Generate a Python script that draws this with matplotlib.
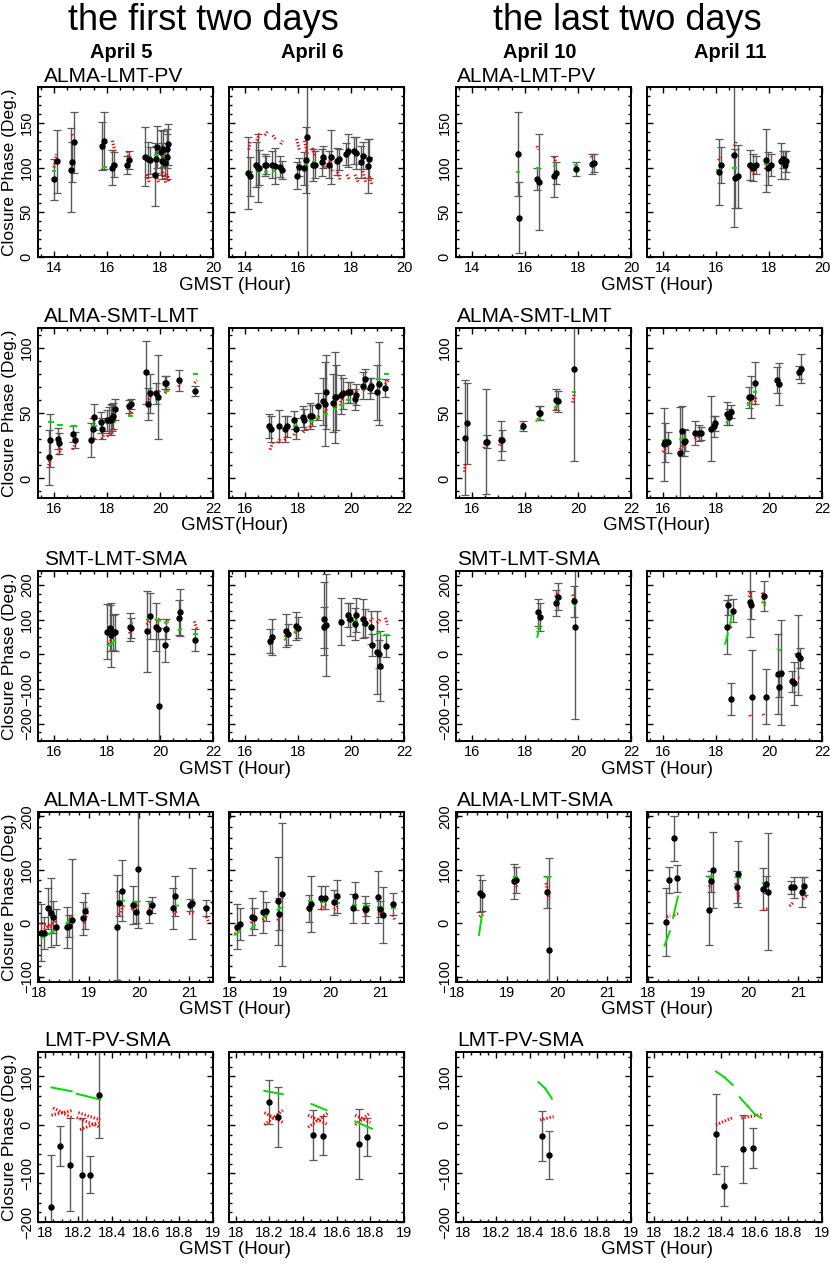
import matplotlib
matplotlib.use("Agg")
import matplotlib.pyplot as plt
from matplotlib.ticker import MultipleLocator, FuncFormatter

plt.rcParams['font.family'] = ['Liberation Sans', 'DejaVu Sans']

# Black points: (GMST hour, closure phase, error) ; green/red: (t0, t1, y0, y1)
# ---- ALMA-LMT-PV ----
pv_apr5 = [(14.01, 87, 23), (14.1, 107, 35), (14.63, 97, 47), (14.68, 106, 22), (14.74, 128, 34),
           (15.8, 124, 27), (15.88, 130, 32), (16.2, 100, 20), (16.26, 103, 14), (16.75, 103, 10),
           (16.82, 108, 10), (17.45, 112, 33), (17.55, 109, 20), (17.62, 108, 15), (17.82, 92, 35),
           (17.87, 123, 23), (17.86, 109, 15), (18.02, 117, 25), (18.08, 107, 20), (18.12, 121, 20),
           (18.2, 105, 15), (18.26, 121, 22), (18.3, 126, 23), (18.28, 112, 25)]
pv_apr5_green = [(13.98, 14.05, 96, 96), (14.65, 14.75, 95, 95), (15.85, 15.95, 101, 101),
                 (16.2, 16.3, 104, 104), (16.78, 16.88, 108, 108), (17.5, 17.65, 112, 112),
                 (17.8, 17.92, 114, 114), (18.05, 18.2, 114, 114), (18.25, 18.35, 113, 113)]
pv_apr5_red = [(14.0, 14.1, 100, 115), (14.68, 14.75, 137, 134), (15.8, 15.9, 120, 130),
               (16.2, 16.3, 130, 118), (16.78, 16.85, 118, 107), (17.5, 17.6, 92, 83),
               (17.85, 17.95, 92, 83), (18.1, 18.22, 95, 82), (18.25, 18.35, 93, 83)]

pv_apr6 = [(14.13, 94, 40), (14.21, 90, 22), (14.41, 103, 25), (14.48, 99, 38), (14.54, 100, 20),
           (14.75, 103, 12), (14.81, 103, 10), (15.04, 103, 15), (15.12, 102, 20), (15.31, 101, 12),
           (15.38, 97, 10), (15.96, 91, 15), (16.03, 101, 10), (16.21, 99, 18), (16.29, 108, 37),
           (16.34, 134, 250), (16.56, 103, 18), (16.63, 103, 15), (16.91, 106, 15), (16.96, 112, 12),
           (17.19, 103, 15), (17.25, 112, 30), (17.48, 107, 15), (17.54, 109, 12), (17.81, 115, 12),
           (17.88, 119, 18), (18.1, 119, 15), (18.19, 116, 18), (18.38, 106, 18), (18.44, 113, 15),
           (18.63, 102, 30), (18.69, 110, 22)]
pv_apr6_green = [(14.15, 14.25, 95, 95), (14.45, 14.55, 95, 95), (14.75, 14.85, 95, 95),
                 (15.05, 15.15, 96, 96), (15.33, 15.42, 97, 97), (15.95, 16.05, 101, 101),
                 (16.25, 16.35, 104, 104), (16.55, 16.65, 106, 106), (16.95, 17.05, 110, 110),
                 (17.25, 17.35, 111, 111), (17.5, 17.6, 112, 112), (17.85, 17.95, 115, 115),
                 (18.15, 18.3, 115, 115), (18.43, 18.55, 113, 113), (18.68, 18.8, 111, 111)]
pv_apr6_red = [(14.15, 14.2, 120, 130), (14.45, 14.55, 130, 138), (14.75, 14.85, 136, 140),
               (15.05, 15.15, 136, 132), (15.35, 15.42, 126, 130), (15.95, 16.05, 132, 120),
               (16.25, 16.35, 130, 115), (16.55, 16.65, 122, 112), (16.95, 17.05, 112, 100),
               (17.2, 17.3, 108, 95), (17.5, 17.6, 95, 85), (17.85, 17.95, 92, 86),
               (18.15, 18.3, 92, 82), (18.45, 18.55, 96, 84), (18.7, 18.8, 90, 80)]

pv_apr10 = [(15.73, 115, 47), (15.77, 44, 40), (16.47, 87, 12), (16.53, 84, 54), (17.1, 90, 23),
            (17.16, 94, 12), (17.91, 98, 8), (18.54, 104, 11), (18.6, 105, 10)]
pv_apr10_green = [(15.7, 15.78, 95, 95), (16.44, 16.52, 99, 99), (17.08, 17.16, 102, 102),
                  (17.88, 17.95, 103, 103), (18.5, 18.6, 104, 104)]
pv_apr10_red = [(15.75, 15.8, 117, 120), (16.45, 16.5, 124, 120), (17.1, 17.15, 112, 107),
                (17.9, 17.95, 101, 104), (18.5, 18.55, 113, 110)]

pv_apr11 = [(16.13, 95, 37), (16.19, 103, 20), (16.67, 114, 80), (16.72, 88, 33), (16.82, 90, 35),
            (17.27, 103, 17), (17.39, 100, 15), (17.52, 103, 10), (17.87, 108, 35), (17.96, 99, 18),
            (18.06, 103, 12), (18.47, 107, 20), (18.53, 109, 10), (18.59, 103, 16), (18.66, 107, 12)]
pv_apr11_green = [(16.05, 16.15, 97, 97), (16.65, 16.75, 100, 100), (17.2, 17.45, 103, 103),
                  (17.85, 18.05, 104, 104), (18.45, 18.65, 104, 104)]
pv_apr11_red = [(16.1, 16.16, 108, 112), (16.7, 16.78, 124, 130), (17.22, 17.45, 103, 92),
                (17.85, 18.0, 98, 106), (18.45, 18.52, 108, 113), (18.52, 18.6, 113, 106)]

# ---- ALMA-SMT-LMT ----
sl_apr5 = [(15.81, 16, 21), (15.86, 29, 20), (16.15, 30.5, 8), (16.21, 27, 8), (16.72, 34, 6),
           (16.78, 29.5, 6), (17.41, 29, 13), (17.47, 38, 8), (17.53, 47, 10), (17.76, 43, 8),
           (17.82, 38, 8), (18.01, 44.5, 8), (18.08, 44.5, 10), (18.14, 45, 12), (18.19, 46.5, 10),
           (18.23, 48, 10), (18.29, 53, 8), (18.83, 55, 5), (18.89, 57, 4), (19.48, 81, 24),
           (19.55, 57, 12), (19.61, 65, 15), (19.84, 65, 8), (19.92, 62, 32), (20.18, 73, 5),
           (20.24, 73, 5), (20.7, 75, 8), (21.33, 67, 4)]
sl_apr5_green = [(15.8, 15.95, 43, 43), (16.15, 16.3, 41, 41), (16.7, 16.85, 40, 40),
                 (17.45, 17.58, 40, 40), (17.8, 17.9, 42, 42), (18.0, 18.3, 42, 43),
                 (18.85, 18.95, 48, 48), (19.5, 19.62, 57, 57), (19.85, 20.0, 60, 62),
                 (20.2, 20.3, 67, 67), (20.7, 20.8, 73, 73), (21.3, 21.4, 80, 80)]
sl_apr5_red = [(15.8, 15.9, 10, 17), (16.15, 16.28, 18, 23), (16.7, 16.82, 22, 27),
               (17.45, 17.55, 28, 32), (17.8, 17.9, 30, 34), (18.0, 18.3, 32, 38),
               (18.85, 18.95, 48, 52), (19.5, 19.65, 58, 63), (19.85, 20.0, 62, 68),
               (20.2, 20.3, 65, 70), (20.7, 20.8, 70, 74), (21.3, 21.4, 73, 75)]

sl_apr6 = [(16.91, 40, 9), (17.0, 38, 10), (17.27, 40, 12), (17.52, 38, 10), (17.58, 40, 8),
           (17.86, 44.5, 7), (17.92, 38, 8), (18.18, 47, 8), (18.24, 45, 8), (18.47, 48, 10),
           (18.53, 48, 8), (18.75, 55, 10), (18.94, 59, 18), (19.03, 57, 32), (19.06, 66, 28),
           (19.34, 57.5, 22), (19.41, 62, 35), (19.44, 62, 25), (19.61, 64, 15), (19.7, 65, 12),
           (19.89, 66, 8), (19.95, 66, 8), (20.14, 60.5, 8), (20.2, 64, 8), (20.46, 71, 10),
           (20.54, 76, 8), (20.71, 69, 8), (20.77, 71, 6), (21.0, 66, 21), (21.06, 72.5, 32),
           (21.3, 69, 7)]
sl_apr6_green = [(16.9, 17.0, 40, 40), (17.25, 17.35, 40, 40), (17.5, 17.6, 40, 40),
                 (17.85, 17.95, 40, 40), (18.2, 18.3, 43, 43), (18.45, 18.55, 44, 44),
                 (18.7, 18.8, 46, 46), (19.0, 19.1, 49, 49), (19.35, 19.45, 53, 53),
                 (19.6, 19.7, 56, 56), (19.85, 19.95, 60, 60), (20.15, 20.25, 64, 64),
                 (20.45, 20.55, 68, 68), (20.7, 20.8, 72, 72), (21.0, 21.1, 76, 76),
                 (21.3, 21.4, 80, 80)]
sl_apr6_red = [(16.95, 17.05, 22, 28), (17.25, 17.35, 27, 31), (17.5, 17.6, 29, 33),
               (17.85, 17.95, 33, 37), (18.2, 18.3, 35, 38), (18.45, 18.55, 39, 43),
               (18.7, 18.8, 45, 48), (19.0, 19.1, 50, 54), (19.35, 19.45, 54, 58),
               (19.6, 19.7, 58, 62), (19.85, 19.95, 63, 68), (20.15, 20.25, 64, 68),
               (20.45, 20.55, 67, 70), (20.7, 20.8, 70, 73), (21.0, 21.1, 71, 74),
               (21.3, 21.4, 72, 75)]

sl_apr10 = [(15.74, 31, 44), (15.8, 42, 31), (16.53, 28, 40), (16.58, 28, 5), (17.09, 29, 15),
            (17.14, 29, 8), (17.91, 40, 4), (18.54, 50, 5), (18.58, 50, 5), (19.17, 60, 8),
            (19.23, 59, 8), (19.86, 83.5, 70)]
sl_apr10_green = [(15.72, 15.8, 30, 30), (16.48, 16.56, 28, 28), (17.05, 17.12, 31, 31),
                  (17.85, 17.95, 38, 38), (18.45, 18.55, 44, 46), (19.13, 19.23, 54, 56),
                  (19.8, 19.87, 66, 66)]
sl_apr10_red = [(15.72, 15.75, 5, 12), (16.45, 16.55, 23, 29), (17.05, 17.12, 25, 31),
                (17.88, 17.94, 39, 43), (18.5, 18.55, 45, 50), (19.15, 19.2, 52, 57),
                (19.8, 19.87, 58, 66)]

sl_apr11 = [(16.03, 26, 28), (16.09, 27.5, 15), (16.18, 27.5, 8), (16.66, 19.3, 35), (16.72, 36.4, 19),
            (16.78, 27.5, 10), (16.84, 28.8, 8), (17.22, 34.6, 9), (17.35, 34.6, 6), (17.44, 34.6, 5),
            (17.82, 38, 25), (17.92, 40, 8), (17.98, 42, 6), (18.4, 49.6, 9), (18.48, 47, 6),
            (18.57, 51, 5), (19.24, 62, 8), (19.34, 62, 16), (19.49, 73, 16), (20.31, 75, 10),
            (20.38, 72.5, 16), (21.13, 81, 5), (21.19, 84, 11)]
sl_apr11_green = [(16.0, 16.2, 29, 30), (16.65, 16.85, 30, 31), (17.2, 17.45, 33, 35),
                  (17.8, 18.0, 38, 40), (18.4, 18.6, 43, 47), (19.2, 19.35, 56, 58),
                  (19.45, 19.52, 66, 66), (20.3, 20.4, 73, 75), (21.1, 21.2, 79, 80)]
sl_apr11_red = [(16.0, 16.2, 20, 26), (16.65, 16.85, 22, 28), (17.2, 17.45, 30, 34),
                (17.8, 18.0, 36, 44), (18.4, 18.6, 45, 50), (19.2, 19.35, 57, 61),
                (19.45, 19.52, 56, 63), (20.3, 20.4, 71, 74), (21.1, 21.2, 79, 82)]

# ---- SMT-LMT-SMA ----
sma_apr5 = [(18.0, 65, 80), (18.1, 75.6, 65), (18.16, 55.5, 93), (18.23, 63, 50), (18.29, 63, 53),
            (18.86, 79, 40), (18.92, 75.6, 30), (19.52, 66, 117), (19.61, 111, 67), (19.84, 79, 70),
            (19.92, 73, 30), (19.98, -150, 195), (20.18, 27, 50), (20.24, 73, 30), (20.7, 105, 50),
            (20.76, 121, 67), (21.33, 41, 33)]
sma_apr5_green = [(18.05, 18.18, 25, 30), (18.18, 18.3, 30, 40), (18.85, 18.95, 75, 90),
                  (19.5, 19.65, 100, 105), (19.85, 20.0, 100, 97), (20.2, 20.3, 90, 92),
                  (20.7, 20.8, 70, 72), (21.3, 21.4, 57, 57)]
sma_apr5_red = [(18.05, 18.3, 30, 55), (18.85, 18.95, 60, 85), (19.5, 19.65, 85, 100),
                (19.85, 20.0, 95, 102), (20.2, 20.3, 90, 100), (20.7, 20.8, 100, 105),
                (21.3, 21.4, 95, 70)]

sma_apr6 = [(16.95, 39, 34), (17.01, 49, 52), (17.54, 68, 47), (17.61, 58, 30), (17.92, 82, 40),
            (17.99, 76, 30), (18.97, 103, 104), (19.0, 77.5, 60), (19.06, 84, 148), (19.63, 94, 68),
            (19.89, 113, 35), (19.95, 101, 47), (20.14, 87, 45), (20.2, 113, 50), (20.46, 103, 57),
            (20.54, 90, 40), (20.75, 77.5, 48), (20.8, 27, 32), (21.0, 6, 120), (21.06, 1, 40),
            (21.1, -34, 100), (21.32, 24, 31)]
sma_apr6_green = [(16.92, 17.03, 28, 38), (17.5, 17.63, 42, 55), (17.88, 18.0, 65, 78),
                  (18.95, 19.08, 85, 92), (19.6, 19.68, 100, 100), (19.87, 19.97, 100, 102),
                  (20.12, 20.22, 95, 96), (20.44, 20.56, 85, 80), (20.72, 20.82, 72, 70),
                  (20.98, 21.1, 60, 62), (21.3, 21.38, 55, 55)]
sma_apr6_red = [(16.92, 17.03, 35, 45), (17.5, 17.63, 50, 60), (17.88, 18.0, 60, 75),
                (18.95, 19.08, 70, 80), (19.6, 19.68, 85, 100), (19.87, 19.97, 95, 105),
                (20.12, 20.22, 92, 100), (20.44, 20.56, 95, 105), (20.72, 20.82, 95, 105),
                (20.98, 21.1, 90, 100), (21.3, 21.38, 105, 85)]

sma_apr10 = [(18.5, 120.6, 38), (18.55, 108, 40), (19.17, 147, 38), (19.23, 166.5, 38),
             (19.86, 153, 45), (19.89, 79, 265)]
sma_apr10_green = [(18.47, 18.55, 50, 82), (19.15, 19.25, 150, 170), (19.8, 19.9, 155, 140)]
sma_apr10_red = [(18.5, 18.55, 72, 80), (19.15, 19.25, 165, 180), (19.8, 19.9, 172, 145)]

sma_apr11 = [(18.4, 79, 77), (18.46, 142, 30), (18.57, -128, 46), (18.64, 125, 33), (19.27, 151, 100),
             (19.33, 142, 40), (19.37, -122, 135), (19.81, 168.5, 43), (19.87, -122, 80),
             (20.35, -56, 115), (20.38, -93, 30), (20.44, -53, 152), (20.88, -77.5, 30),
             (20.94, -83, 62), (21.11, -1, 115), (21.17, -10.5, 28)]
sma_apr11_green = [(18.35, 18.45, 30, 60), (18.52, 18.62, 78, 128), (19.25, 19.35, 150, 160),
                   (19.75, 19.85, 150, 145), (20.35, 20.42, 15, 12), (21.0, 21.15, 0, -2)]
sma_apr11_red = [(18.36, 18.45, 80, 76), (18.55, 18.65, 78, 82), (19.25, 19.3, 165, 180),
                 (19.28, 19.3, -175, -180), (19.75, 19.85, 178, 140), (19.78, 19.82, -172, -178),
                 (20.35, 20.45, -55, -60), (20.85, 20.95, -70, -78), (21.1, 21.2, -68, -70)]

# ---- ALMA-LMT-SMA ----
als_apr5 = [(18.03, -17.5, 53), (18.09, -17.5, 30), (18.17, 28, 38), (18.23, 20, 64), (18.28, 12, 30),
            (18.33, -7, 34), (18.55, -8, 39), (18.6, -5, 20), (18.65, 5.6, 115), (18.87, 9.4, 31),
            (18.92, 23, 34), (19.55, -8, 98), (19.6, 37, 24), (19.65, 60.6, 57), (19.87, 34, 35),
            (19.93, 21, 20), (19.97, 101, 110), (20.2, 21, 20), (20.25, 34, 15), (20.68, 28, 38),
            (20.71, 51, 38), (21.01, 34, 12), (21.05, 37, 66), (21.33, 29, 15)]
als_apr5_green = [(18.05, 18.2, -28, -20), (18.2, 18.35, -20, -12), (18.55, 18.65, 0, 10),
                  (18.9, 18.97, 22, 28), (19.6, 19.7, 41, 42), (19.87, 19.97, 40, 40),
                  (20.2, 20.3, 37, 36), (20.7, 20.78, 32, 33), (21.0, 21.1, 30, 32),
                  (21.3, 21.4, 29, 29)]
als_apr5_red = [(18.05, 18.35, -15, 5), (18.05, 18.35, 0, -10), (18.55, 18.65, -10, 15),
                (18.9, 18.97, 0, 20), (19.6, 19.7, 15, 35), (19.85, 19.97, 25, 35),
                (20.2, 20.3, 26, 33), (20.68, 20.78, 18, 24), (21.0, 21.1, 18, 20),
                (21.35, 21.4, 12, 0)]

als_apr6 = [(18.14, -7, 42), (18.19, -2, 30), (18.43, 12, 35), (18.47, 9, 20), (18.66, 21, 40),
            (18.71, 22, 18), (18.95, 41, 82), (18.98, 18, 30), (19.03, 54, 134), (19.57, 28, 25),
            (19.62, 36, 52), (19.82, 48, 22), (19.89, 48, 22), (20.08, 39, 24), (20.15, 50, 30),
            (20.45, 27.5, 28), (20.49, 51, 26), (20.69, 26, 25), (20.72, 26, 12), (20.96, 49, 49),
            (20.99, 26, 15), (21.05, 15, 52), (21.26, 36, 20)]
als_apr6_green = [(18.1, 18.2, -22, -15), (18.42, 18.5, -10, -4), (18.66, 18.76, 10, 18),
                  (18.95, 19.05, 25, 30), (19.57, 19.65, 42, 42), (19.82, 19.92, 40, 40),
                  (20.08, 20.18, 38, 38), (20.45, 20.52, 34, 34), (20.68, 20.78, 32, 32),
                  (20.96, 21.06, 30, 30), (21.24, 21.3, 29, 29)]
als_apr6_red = [(18.1, 18.2, -20, 0), (18.42, 18.5, 0, 10), (18.66, 18.76, 5, 20),
                (18.95, 19.05, 5, 20), (19.57, 19.65, 22, 32), (19.82, 19.92, 25, 35),
                (20.08, 20.18, 26, 32), (20.45, 20.52, 25, 28), (20.68, 20.78, 18, 24),
                (20.96, 21.06, 17, 20), (21.26, 21.3, 15, 5)]

als_apr10 = [(18.46, 55.6, 34), (18.5, 52.5, 29), (19.13, 78, 33), (19.18, 80.6, 25),
             (19.8, 59, 30), (19.83, -50.6, 172)]
als_apr10_green = [(18.44, 18.5, -22, 15), (19.13, 19.2, 86, 87), (19.78, 19.85, 87, 87)]
als_apr10_red = [(18.45, 18.52, 12, 17), (19.12, 19.2, 80, 68), (19.78, 19.85, 75, 45)]

als_apr11 = [(18.35, 2.5, 64), (18.41, 80.6, 25), (18.51, 158.8, 42), (18.58, 84, 25), (19.21, 24, 65),
             (19.25, 78, 20), (19.3, 100, 71), (19.77, 68, 30), (19.81, 92, 62), (20.31, 64, 40),
             (20.35, 73, 16), (20.4, 59, 110), (20.86, 67, 12), (20.91, 67, 20), (21.07, 59, 28),
             (21.12, 70, 17)]
als_apr11_green = [(18.33, 18.44, -42, -15), (18.5, 18.6, 10, 50), (19.2, 19.28, 87, 88),
                   (19.75, 19.85, 86, 85), (20.3, 20.4, 75, 74), (20.83, 20.95, 63, 64),
                   (21.08, 21.15, 56, 55)]
als_apr11_red = [(18.38, 18.45, 12, 14), (18.52, 18.6, 15, 18), (19.22, 19.3, 68, 80),
                 (19.75, 19.83, 75, 45), (20.3, 20.4, 25, 27), (20.83, 20.92, 32, 40),
                 (21.1, 21.18, 45, 52)]

# ---- LMT-PV-SMA ----
lps_apr5 = [(18.04, -169, 107), (18.09, -43, 41), (18.15, -82, 96), (18.22, -103, 117),
            (18.27, -103, 38), (18.32, 61.6, 88)]
lps_apr5_green = [(18.04, 18.16, 77, 69), (18.19, 18.33, 64, 52)]
lps_apr5_red = [(18.04, 18.17, 20, 30), (18.05, 18.16, 35, 15), (18.19, 18.33, 15, -5),
                (18.2, 18.33, 25, 10), (18.21, 18.32, -10, 5)]

lps_apr6 = [(18.2, 46.6, 45), (18.25, 15.8, 62), (18.46, -20.5, 51), (18.52, -22.6, 40),
            (18.73, -39.7, 72), (18.78, -25.3, 39)]
lps_apr6_green = [(18.17, 18.28, 70, 63), (18.45, 18.54, 43, 30), (18.71, 18.81, 7, -8)]
lps_apr6_red = [(18.17, 18.28, 0, 30), (18.17, 18.28, 25, 5), (18.43, 18.55, -5, 25),
                (18.43, 18.55, 20, 0), (18.71, 18.8, 0, 25), (18.71, 18.8, 20, 5)]

lps_apr10 = [(18.47, -22.6, 51), (18.51, -62, 49)]
lps_apr10_green = [(18.45, 18.49, 88, 75), (18.49, 18.53, 75, 54)]
lps_apr10_red = [(18.46, 18.54, 10, 17)]

lps_apr11 = [(18.37, -18.6, 82), (18.42, -125.5, 41), (18.53, -49.7, 69), (18.59, -48.3, 41)]
lps_apr11_green = [(18.37, 18.42, 110, 98), (18.42, 18.47, 98, 82), (18.51, 18.56, 57, 38),
                   (18.56, 18.6, 38, 22), (18.6, 18.64, 22, 14)]
lps_apr11_red = [(18.37, 18.47, 0, 15), (18.52, 18.64, 14, 21)]

# ---- panel settings ----
row_titles = ["ALMA-LMT-PV", "ALMA-SMT-LMT", "SMT-LMT-SMA", "ALMA-LMT-SMA", "LMT-PV-SMA"]
day_labels = ["April 5", "April 6", "April 10", "April 11"]
x_titles = ["GMST (Hour)", "GMST(Hour)", "GMST (Hour)", "GMST (Hour)", "GMST (Hour)"]
row_xlim = [(13.4, 20.0), (15.4, 22.0), (15.4, 22.0), (17.98, 21.48), (17.96, 19.0)]
row_xmajor = [2, 2, 2, 1, 0.2]
row_xminor = [0.5, 0.5, 0.5, 0.2, 0.05]
row_ylim = [(0, 190), (-15, 115), (-250, 240), (-110, 208), (-200, 150)]
row_ymajor = [50, 50, 100, 100, 100]
row_yminor = [10, 10, 25, 20, 20]

rows = [
    [(pv_apr5, pv_apr5_green, pv_apr5_red), (pv_apr6, pv_apr6_green, pv_apr6_red),
     (pv_apr10, pv_apr10_green, pv_apr10_red), (pv_apr11, pv_apr11_green, pv_apr11_red)],
    [(sl_apr5, sl_apr5_green, sl_apr5_red), (sl_apr6, sl_apr6_green, sl_apr6_red),
     (sl_apr10, sl_apr10_green, sl_apr10_red), (sl_apr11, sl_apr11_green, sl_apr11_red)],
    [(sma_apr5, sma_apr5_green, sma_apr5_red), (sma_apr6, sma_apr6_green, sma_apr6_red),
     (sma_apr10, sma_apr10_green, sma_apr10_red), (sma_apr11, sma_apr11_green, sma_apr11_red)],
    [(als_apr5, als_apr5_green, als_apr5_red), (als_apr6, als_apr6_green, als_apr6_red),
     (als_apr10, als_apr10_green, als_apr10_red), (als_apr11, als_apr11_green, als_apr11_red)],
    [(lps_apr5, lps_apr5_green, lps_apr5_red), (lps_apr6, lps_apr6_green, lps_apr6_red),
     (lps_apr10, lps_apr10_green, lps_apr10_red), (lps_apr11, lps_apr11_green, lps_apr11_red)],
]

W, H = 830, 1264
col_left = [38, 229, 456, 647]
row_top = [87, 328, 571, 812, 1052]
pw, ph = 175, 170

fig = plt.figure(figsize=(W / 100, H / 100), dpi=100)


def fx(px):
    return px / W


def fy(py):
    return 1 - py / H


fmt = FuncFormatter(lambda v, p: f"{v:g}".replace("-", "\u2212"))

for r in range(5):
    for c in range(4):
        ax = fig.add_axes([fx(col_left[c]), fy(row_top[r] + ph), pw / W, ph / H])
        pts, green, red = rows[r][c]
        t = [p[0] for p in pts]
        cp = [p[1] for p in pts]
        err = [p[2] for p in pts]
        ax.errorbar(t, cp, yerr=err, fmt="none", ecolor="0.35", elinewidth=1.0,
                    capsize=2.6, capthick=0.9, zorder=2)
        for x0, x1, y0, y1 in red:
            ax.plot([x0, x1], [y0, y1], color="red", lw=2.2, ls=(0, (0.45, 0.6)), zorder=3)
        for x0, x1, y0, y1 in green:
            ax.plot([x0, x1], [y0, y1], color="#00dd00", lw=1.4, zorder=3)
        ax.plot(t, cp, "o", color="black", ms=3.6, zorder=4)

        ax.set_xlim(*row_xlim[r])
        ax.set_ylim(*row_ylim[r])
        ax.xaxis.set_major_locator(MultipleLocator(row_xmajor[r]))
        ax.xaxis.set_minor_locator(MultipleLocator(row_xminor[r]))
        ax.yaxis.set_major_locator(MultipleLocator(row_ymajor[r]))
        ax.yaxis.set_minor_locator(MultipleLocator(row_yminor[r]))
        ax.xaxis.set_major_formatter(fmt)
        ax.yaxis.set_major_formatter(fmt)
        ax.tick_params(which="both", direction="in", top=True, right=True, width=1.0)
        ax.tick_params(which="major", length=4.5, labelsize=10.5, pad=3)
        ax.tick_params(which="minor", length=2.5)
        ax.tick_params(axis="y", labelrotation=90)
        for lab in ax.get_yticklabels():
            lab.set_va("center")
        if c in (1, 3):
            ax.tick_params(axis="y", labelleft=False)
        for s in ax.spines.values():
            s.set_linewidth(1.4)

    # row title over the left panel of each half
    fig.text(fx(44), fy(row_top[r] - 11), row_titles[r], fontsize=15, va="center", ha="left")
    fig.text(fx(457), fy(row_top[r] - 11), row_titles[r], fontsize=15, va="center", ha="left")
    fig.text(fx(10), fy(row_top[r] + ph / 2), "Closure Phase (Deg.)", fontsize=12.5,
             rotation=90, va="center", ha="center")
    fig.text(fx(235), fy(row_top[r] + ph + 28), x_titles[r], fontsize=13.5, ha="center", va="center")
    fig.text(fx(657), fy(row_top[r] + ph + 28), x_titles[r], fontsize=13.5, ha="center", va="center")

fig.text(fx(203), fy(21), "the first two days", fontsize=26, ha="center", va="center")
fig.text(fx(627), fy(21), "the last two days", fontsize=26, ha="center", va="center")
for c, lab in enumerate(day_labels):
    fig.text(fx(col_left[c] + pw / 2 - 4), fy(52), lab, fontsize=14.5, fontweight="bold",
             ha="center", va="center")

fig.savefig("out.png", dpi=100)
